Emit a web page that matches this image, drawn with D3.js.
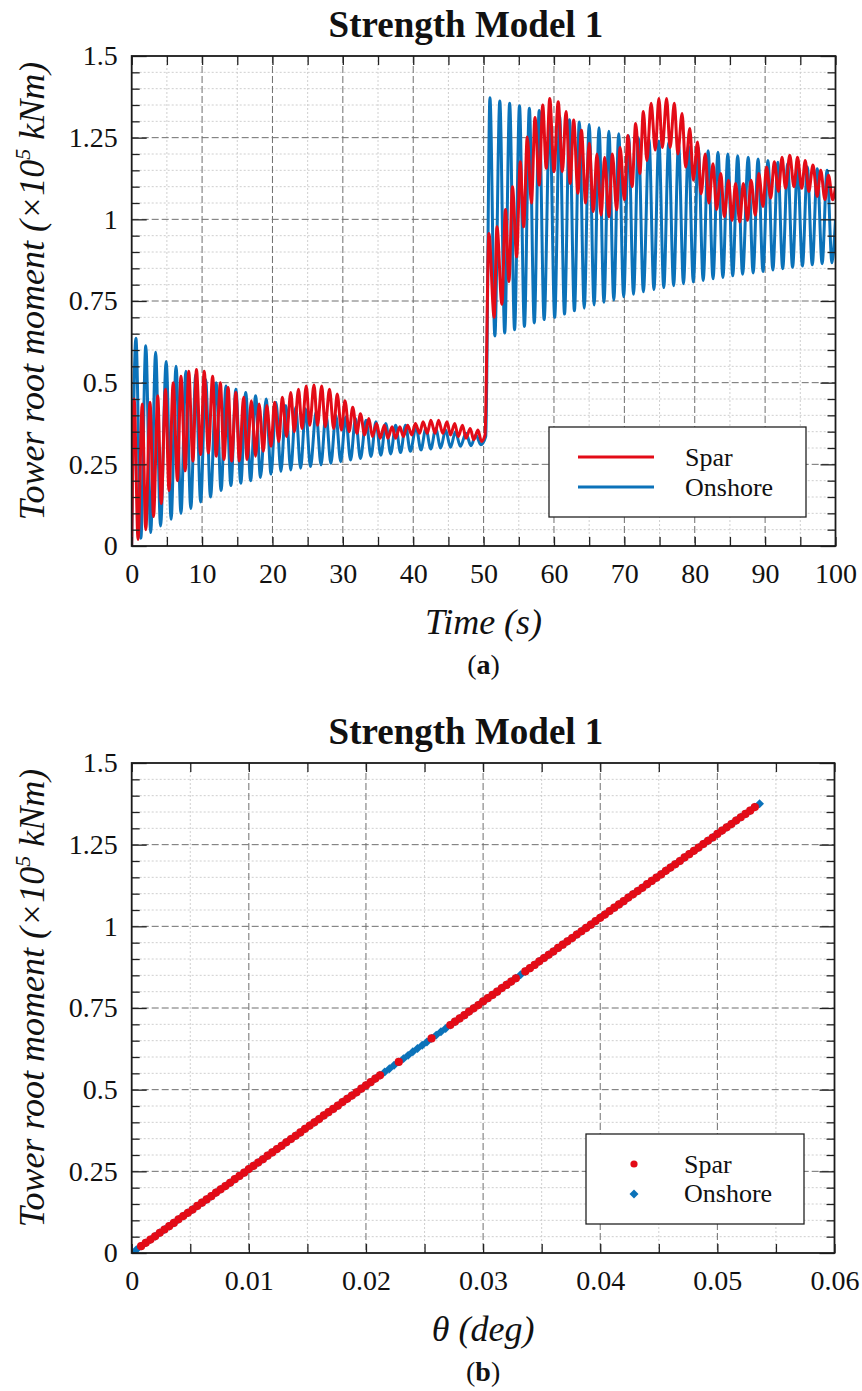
<!DOCTYPE html>
<html>
<head>
<meta charset="utf-8">
<script src="https://cdn.jsdelivr.net/npm/d3@7"></script>
<style>
  html, body { margin: 0; padding: 0; background: #fff; }
  svg { display: block; }
  text { font-family: "Liberation Serif", "Times New Roman", serif; fill: #111; }
</style>
</head>
<body>
<svg id="fig" width="862" height="1391"></svg>
<script>
// ---------------- data ----------------
// (a) tower root moment time histories, turning points of each oscillation
const sparTime = [
  0, 0.35, 0.9, 1.5, 2.0, 2.6, 3.1, 3.7, 4.2, 4.8, 5.3, 5.9, 6.5, 7.0, 7.6, 8.1, 8.7, 9.2, 9.8,
  10.3, 10.9, 11.5, 12.0, 12.6, 13.1, 13.7, 14.2, 14.8, 15.3, 15.9, 16.4, 17.0, 17.6, 18.1, 18.7,
  19.2, 19.8, 20.3, 20.9, 21.4, 22.0, 22.6, 23.1, 23.7, 24.2, 24.8, 25.3, 25.9, 26.4, 27.0, 27.5,
  28.1, 28.7, 29.2, 29.8, 30.3, 30.9, 31.4, 32.0, 32.5, 33.1, 33.7, 34.2, 34.8, 35.3, 35.9, 36.4,
  37.0, 37.5, 38.1, 38.6, 39.2, 39.8, 40.3, 40.9, 41.4, 42.0, 42.5, 43.1, 43.6, 44.2, 44.8, 45.3,
  45.9, 46.4, 47.0, 47.5, 48.1, 48.6, 49.2, 49.7, 50.2,
  50.75, 51.5, 51.9, 52.6, 53.1, 53.6, 54.1, 54.7, 55.2, 55.7, 56.2, 56.8, 57.3, 57.9, 58.4, 58.9,
  59.4, 60.0, 60.6, 61.2, 61.7, 62.3, 62.8, 63.4, 63.9, 64.5, 65.0, 65.6, 66.1, 66.7, 67.2, 67.8,
  68.3, 68.9, 69.4, 70.0, 70.5, 71.1, 71.6, 72.2, 72.7, 73.2, 73.8, 74.4, 74.9, 75.4, 76.0, 76.5,
  77.1, 77.6, 78.2, 78.7, 79.3, 79.8, 80.4, 80.9, 81.5, 82.0, 82.6, 83.1, 83.7, 84.2, 84.8, 85.3,
  85.8, 86.4, 86.9, 87.5, 88.0, 88.6, 89.1, 89.7, 90.2, 90.8, 91.3, 91.9, 92.4, 92.9, 93.5, 94.1,
  94.6, 95.2, 95.7, 96.2, 96.8, 97.4, 97.9, 98.5, 99.0, 99.6, 100
];
const sparMoment = [
  0, 0.45, 0.02, 0.435, 0.05, 0.44, 0.09, 0.46, 0.13, 0.48, 0.17, 0.50, 0.20, 0.52, 0.23, 0.535, 0.26, 0.54, 0.28,
  0.535, 0.285, 0.52, 0.275, 0.50, 0.265, 0.485, 0.26, 0.47, 0.26, 0.455, 0.265, 0.445, 0.275, 0.435, 0.29,
  0.43, 0.305, 0.44, 0.32, 0.455, 0.335, 0.47, 0.35, 0.48, 0.36, 0.49, 0.37, 0.493, 0.37, 0.49, 0.365,
  0.48, 0.36, 0.465, 0.355, 0.445, 0.35, 0.425, 0.345, 0.405, 0.34, 0.39, 0.335, 0.375, 0.33, 0.37, 0.33,
  0.365, 0.33, 0.365, 0.335, 0.37, 0.34, 0.375, 0.345, 0.38, 0.345, 0.385, 0.345, 0.385, 0.345, 0.38, 0.34,
  0.375, 0.335, 0.37, 0.33, 0.36, 0.325, 0.355, 0.32, 0.34,
  0.957, 0.70, 0.977, 0.74, 1.03, 0.81, 1.10, 0.885, 1.176, 0.977, 1.252, 1.05, 1.312, 1.105, 1.35, 1.156,
  1.37, 1.146, 1.36, 1.146, 1.33, 1.11, 1.304, 1.08, 1.273, 1.05, 1.233, 1.024, 1.20, 1.013, 1.19, 1.008,
  1.20, 1.029, 1.22, 1.06, 1.257, 1.10, 1.293, 1.14, 1.33, 1.18, 1.355, 1.212, 1.37, 1.22, 1.37, 1.22,
  1.355, 1.20, 1.324, 1.16, 1.278, 1.12, 1.237, 1.078, 1.20, 1.05, 1.17, 1.03, 1.14, 1.008, 1.12, 0.997,
  1.11, 0.992, 1.11, 0.997, 1.12, 1.013, 1.14, 1.039, 1.16, 1.065, 1.176, 1.085, 1.19, 1.095, 1.196, 1.10,
  1.19, 1.095, 1.18, 1.085, 1.166, 1.07, 1.15, 1.06, 1.135, 1.06, 1.10
];
const onshoreTime = [
  0, 0.6, 1.3, 2.0, 2.7, 3.4, 4.1, 4.9, 5.6, 6.3, 7.0, 7.7, 8.4, 9.1, 9.8, 10.5, 11.2, 12.0, 12.7,
  13.4, 14.1, 14.8, 15.5, 16.2, 16.9, 17.6, 18.3, 19.1, 19.8, 20.5, 21.2, 21.9, 22.6, 23.3, 24.0,
  24.7, 25.4, 26.2, 26.9, 27.6, 28.3, 29.0, 29.7, 30.4, 31.1, 31.8, 32.5, 33.3, 34.0, 34.7, 35.4,
  36.1, 36.8, 37.5, 38.2, 38.9, 39.6, 40.4, 41.1, 41.8, 42.5, 43.2, 43.9, 44.6, 45.3, 46.0, 46.7,
  47.5, 48.2, 48.9, 49.6, 50.3,
  50.9, 51.6, 52.3, 53.0, 53.7, 54.4, 55.1, 55.8, 56.5, 57.2, 57.9, 58.6, 59.4, 60.1, 60.8, 61.5,
  62.2, 62.9, 63.6, 64.3, 65.0, 65.7, 66.4, 67.1, 67.8, 68.5, 69.2, 69.9, 70.6, 71.3, 72.0, 72.7,
  73.5, 74.2, 74.9, 75.6, 76.3, 77.0, 77.7, 78.4, 79.1, 79.8, 80.5, 81.2, 81.9, 82.6, 83.3, 84.0,
  84.7, 85.4, 86.1, 86.8, 87.6, 88.3, 89.0, 89.7, 90.4, 91.1, 91.8, 92.5, 93.2, 93.9, 94.6, 95.3,
  96.0, 96.7, 97.4, 98.1, 98.8, 99.5, 100
];
const onshoreMoment = [
  0, 0.636, 0.024, 0.613, 0.041, 0.593, 0.061, 0.565, 0.082, 0.55, 0.10, 0.535, 0.115, 0.525, 0.135, 0.51, 0.15, 0.50, 0.17,
  0.49, 0.185, 0.48, 0.192, 0.47, 0.20, 0.46, 0.21, 0.45, 0.22, 0.44, 0.228, 0.43, 0.233, 0.425, 0.238,
  0.42, 0.243, 0.41, 0.248, 0.405, 0.253, 0.40, 0.258, 0.395, 0.263, 0.39, 0.268, 0.385, 0.274, 0.38, 0.278,
  0.375, 0.282, 0.37, 0.286, 0.37, 0.29, 0.365, 0.294, 0.36, 0.297, 0.36, 0.30, 0.355, 0.302, 0.35, 0.305,
  0.345, 0.307, 0.34, 0.31, 0.335,
  1.372, 0.643, 1.362, 0.652, 1.355, 0.662, 1.348, 0.672, 1.34, 0.683, 1.333, 0.693, 1.325, 0.70, 1.315, 0.71,
  1.305, 0.72, 1.298, 0.728, 1.29, 0.738, 1.28, 0.746, 1.27, 0.753, 1.262, 0.763, 1.256, 0.771, 1.25, 0.778,
  1.245, 0.785, 1.24, 0.791, 1.235, 0.797, 1.23, 0.803, 1.225, 0.808, 1.22, 0.813, 1.21, 0.818, 1.205, 0.822,
  1.20, 0.827, 1.195, 0.832, 1.19, 0.836, 1.185, 0.84, 1.18, 0.845, 1.175, 0.849, 1.17, 0.853, 1.165, 0.857,
  1.16, 0.861, 1.155, 0.864, 1.15, 0.867, 1.0
];

// (b) moment against tower rotation
const onshoreTheta = [
  0, 0.0004, 0.0008, 0.0012, 0.0016, 0.002, 0.0024, 0.0028, 0.0032, 0.0036,
  0.004, 0.0044, 0.0048, 0.0052, 0.0056, 0.006, 0.0064, 0.0068, 0.0072, 0.0076,
  0.008, 0.0084, 0.0088, 0.0092, 0.0096, 0.01, 0.0104, 0.0108, 0.0112, 0.0116,
  0.012, 0.0124, 0.0128, 0.0132, 0.0136, 0.014, 0.0144, 0.0148, 0.0152, 0.0156,
  0.016, 0.0164, 0.0168, 0.0172, 0.0176, 0.018, 0.0184, 0.0188, 0.0192, 0.0196,
  0.02, 0.0204, 0.0208, 0.0212, 0.0216, 0.022, 0.0224, 0.0228, 0.0232, 0.0236,
  0.024, 0.0244, 0.0248, 0.0252, 0.0256, 0.026, 0.0264, 0.0268, 0.0272, 0.0276,
  0.028, 0.0284, 0.0288, 0.0292, 0.0296, 0.03, 0.0304, 0.0308, 0.0312, 0.0316,
  0.032, 0.0324, 0.0328, 0.0332, 0.0336, 0.034, 0.0344, 0.0348, 0.0352, 0.0356,
  0.036, 0.0364, 0.0368, 0.0372, 0.0376, 0.038, 0.0384, 0.0388, 0.0392, 0.0396,
  0.04, 0.0404, 0.0408, 0.0412, 0.0416, 0.042, 0.0424, 0.0428, 0.0432, 0.0436,
  0.044, 0.0444, 0.0448, 0.0452, 0.0456, 0.046, 0.0464, 0.0468, 0.0472, 0.0476,
  0.048, 0.0484, 0.0488, 0.0492, 0.0496, 0.05, 0.0504, 0.0508, 0.0512, 0.0516,
  0.052, 0.0524, 0.0528, 0.0532, 0.0536
];
const onshoreRootMoment = [
  0, 0.010, 0.021, 0.031, 0.041, 0.051, 0.062, 0.072, 0.082, 0.092,
  0.103, 0.113, 0.123, 0.133, 0.144, 0.154, 0.164, 0.174, 0.185, 0.195,
  0.205, 0.215, 0.226, 0.236, 0.246, 0.257, 0.267, 0.277, 0.287, 0.298,
  0.308, 0.318, 0.328, 0.339, 0.349, 0.359, 0.369, 0.380, 0.390, 0.400,
  0.410, 0.421, 0.431, 0.441, 0.451, 0.462, 0.472, 0.482, 0.492, 0.503,
  0.513, 0.523, 0.534, 0.544, 0.554, 0.564, 0.575, 0.585, 0.595, 0.605,
  0.616, 0.626, 0.636, 0.646, 0.657, 0.667, 0.677, 0.687, 0.698, 0.708,
  0.718, 0.728, 0.739, 0.749, 0.759, 0.770, 0.780, 0.790, 0.800, 0.811,
  0.821, 0.831, 0.841, 0.852, 0.862, 0.872, 0.882, 0.893, 0.903, 0.913,
  0.923, 0.934, 0.944, 0.954, 0.964, 0.975, 0.985, 0.995, 1.005, 1.016,
  1.026, 1.036, 1.047, 1.057, 1.067, 1.077, 1.088, 1.098, 1.108, 1.118,
  1.129, 1.139, 1.149, 1.159, 1.170, 1.180, 1.190, 1.200, 1.211, 1.221,
  1.231, 1.241, 1.252, 1.262, 1.272, 1.283, 1.293, 1.303, 1.313, 1.324,
  1.334, 1.344, 1.354, 1.365, 1.375
];
const sparTheta = [
  0.0008, 0.0012, 0.0016, 0.002, 0.0024, 0.0028, 0.0032, 0.0036,
  0.004, 0.0044, 0.0048, 0.0052, 0.0056, 0.006, 0.0064, 0.0068, 0.0072, 0.0076,
  0.008, 0.0084, 0.0088, 0.0092, 0.0096, 0.01, 0.0104, 0.0108, 0.0112, 0.0116,
  0.012, 0.0124, 0.0128, 0.0132, 0.0136, 0.014, 0.0144, 0.0148, 0.0152, 0.0156,
  0.016, 0.0164, 0.0168, 0.0172, 0.0176, 0.018, 0.0184, 0.0188, 0.0192, 0.0196,
  0.02, 0.0204, 0.0208, 0.0212,
  0.0228, 0.0256,
  0.0272, 0.0276,
  0.028, 0.0284, 0.0288, 0.0292, 0.0296, 0.03, 0.0304, 0.0308, 0.0312, 0.0316,
  0.032, 0.0324, 0.0328, 0.0336, 0.034, 0.0344, 0.0348, 0.0352, 0.0356,
  0.036, 0.0364, 0.0368, 0.0372, 0.0376, 0.038, 0.0384, 0.0388, 0.0392, 0.0396,
  0.04, 0.0404, 0.0408, 0.0412, 0.0416, 0.042, 0.0424, 0.0428, 0.0432, 0.0436,
  0.044, 0.0444, 0.0448, 0.0452, 0.0456, 0.046, 0.0464, 0.0468, 0.0472, 0.0476,
  0.048, 0.0484, 0.0488, 0.0492, 0.0496, 0.05, 0.0504, 0.0508, 0.0512, 0.0516,
  0.052, 0.0524, 0.0528, 0.0532
];
const sparRootMoment = [
  0.021, 0.031, 0.041, 0.051, 0.062, 0.072, 0.082, 0.092,
  0.103, 0.113, 0.123, 0.133, 0.144, 0.154, 0.164, 0.174, 0.185, 0.195,
  0.205, 0.215, 0.226, 0.236, 0.246, 0.257, 0.267, 0.277, 0.287, 0.298,
  0.308, 0.318, 0.328, 0.339, 0.349, 0.359, 0.369, 0.380, 0.390, 0.400,
  0.410, 0.421, 0.431, 0.441, 0.451, 0.462, 0.472, 0.482, 0.492, 0.503,
  0.513, 0.523, 0.534, 0.544,
  0.585, 0.657,
  0.698, 0.708,
  0.718, 0.728, 0.739, 0.749, 0.759, 0.770, 0.780, 0.790, 0.800, 0.811,
  0.821, 0.831, 0.841, 0.862, 0.872, 0.882, 0.893, 0.903, 0.913,
  0.923, 0.934, 0.944, 0.954, 0.964, 0.975, 0.985, 0.995, 1.005, 1.016,
  1.026, 1.036, 1.047, 1.057, 1.067, 1.077, 1.088, 1.098, 1.108, 1.118,
  1.129, 1.139, 1.149, 1.159, 1.170, 1.180, 1.190, 1.200, 1.211, 1.221,
  1.231, 1.241, 1.252, 1.262, 1.272, 1.283, 1.293, 1.303, 1.313, 1.324,
  1.334, 1.344, 1.354, 1.365
];

// axis ticks
const timeMajor = [0, 10, 20, 30, 40, 50, 60, 70, 80, 90, 100];
const timeMinor = [5, 15, 25, 35, 45, 55, 65, 75, 85, 95];
const thetaMajor = [0, 0.01, 0.02, 0.03, 0.04, 0.05, 0.06];
const thetaMinor = [0.005, 0.015, 0.025, 0.035, 0.045, 0.055];
const momentMajor = [0, 0.25, 0.5, 0.75, 1, 1.25, 1.5];
const momentMinor = [0.05, 0.1, 0.15, 0.2, 0.3, 0.35, 0.4, 0.45, 0.55, 0.6, 0.65, 0.7,
                     0.8, 0.85, 0.9, 0.95, 1.05, 1.1, 1.15, 1.2, 1.3, 1.35, 1.4, 1.45];

const seriesNames = ["Spar", "Onshore"];
const SPAR_RED = "#e30b17";
const ONSHORE_BLUE = "#0b72b9";

// ---------------- drawing ----------------
const svg = d3.select("#fig");
const FONT = '"Liberation Serif", "Times New Roman", serif';

function drawFrame(box, xDom, xMajor, xMinor, titleText, xTitle, tag, clipId) {
  const x = d3.scaleLinear().domain(xDom).range([box.left, box.right]);
  const y = d3.scaleLinear().domain([0, 1.5]).range([box.bottom, box.top]);
  const g = svg.append("g");

  // minor dotted grid
  const grid = g.append("g");
  grid.selectAll("line.gx").data(xMinor).join("line")
    .attr("x1", d => x(d)).attr("x2", d => x(d)).attr("y1", box.top).attr("y2", box.bottom)
    .attr("stroke", "#c9c9c9").attr("stroke-width", 0.9).attr("stroke-dasharray", "2,2");
  grid.selectAll("line.gy").data(momentMinor).join("line")
    .attr("y1", d => y(d)).attr("y2", d => y(d)).attr("x1", box.left).attr("x2", box.right)
    .attr("stroke", "#c9c9c9").attr("stroke-width", 0.9).attr("stroke-dasharray", "2,2");
  // major dashed grid
  grid.selectAll("line.Gx").data(xMajor.slice(1, -1)).join("line")
    .attr("x1", d => x(d)).attr("x2", d => x(d)).attr("y1", box.top).attr("y2", box.bottom)
    .attr("stroke", "#6f6f6f").attr("stroke-width", 1).attr("stroke-dasharray", "7,3");
  grid.selectAll("line.Gy").data(momentMajor.slice(1, -1)).join("line")
    .attr("y1", d => y(d)).attr("y2", d => y(d)).attr("x1", box.left).attr("x2", box.right)
    .attr("stroke", "#6f6f6f").attr("stroke-width", 1).attr("stroke-dasharray", "7,3");

  // clip for the data
  svg.append("defs").append("clipPath").attr("id", clipId)
    .append("rect").attr("x", box.left).attr("y", box.top)
    .attr("width", box.right - box.left).attr("height", box.bottom - box.top);

  const dataLayer = svg.append("g").attr("clip-path", `url(#${clipId})`);
  const top = svg.append("g");

  // inward tick marks on all four sides
  const styleTicks = sel => {
    sel.select(".domain").remove();
    sel.selectAll(".tick line").attr("stroke", "#222").attr("stroke-width", 1.3);
  };
  const xTicks = xMajor.concat(xMinor);
  top.append("g").attr("transform", `translate(0,${box.bottom})`)
    .call(d3.axisBottom(x).tickValues(xTicks).tickSize(-9).tickFormat("")).call(styleTicks);
  top.append("g").attr("transform", `translate(0,${box.top})`)
    .call(d3.axisTop(x).tickValues(xTicks).tickSize(-9).tickFormat("")).call(styleTicks);
  top.append("g").attr("transform", `translate(${box.left},0)`)
    .call(d3.axisLeft(y).tickValues(momentMinor).tickSize(-8).tickFormat("")).call(styleTicks);
  top.append("g").attr("transform", `translate(${box.left},0)`)
    .call(d3.axisLeft(y).tickValues(momentMajor).tickSize(-15).tickFormat("")).call(styleTicks);
  top.append("g").attr("transform", `translate(${box.right},0)`)
    .call(d3.axisRight(y).tickValues(momentMinor).tickSize(-8).tickFormat("")).call(styleTicks);
  top.append("g").attr("transform", `translate(${box.right},0)`)
    .call(d3.axisRight(y).tickValues(momentMajor).tickSize(-15).tickFormat("")).call(styleTicks);

  // tick labels
  const styleLabels = sel => {
    sel.select(".domain").remove();
    sel.attr("font-family", FONT).attr("font-size", 28);
    sel.selectAll(".tick text").attr("fill", "#111");
  };
  top.append("g").attr("transform", `translate(0,${box.bottom})`)
    .call(d3.axisBottom(x).tickValues(xMajor).tickSize(0).tickPadding(17).tickFormat(String))
    .call(styleLabels);
  top.append("g").attr("transform", `translate(${box.left},0)`)
    .call(d3.axisLeft(y).tickValues(momentMajor).tickSize(0).tickPadding(14).tickFormat(String))
    .call(styleLabels);

  // frame
  top.append("rect").attr("x", box.left).attr("y", box.top)
    .attr("width", box.right - box.left).attr("height", box.bottom - box.top)
    .attr("fill", "none").attr("stroke", "#1a1a1a").attr("stroke-width", 1.8);

  // title
  top.append("text").attr("x", 466).attr("y", box.top - 19)
    .attr("text-anchor", "middle").attr("font-size", 37).attr("font-weight", "bold")
    .text(titleText);

  // y axis title
  const yt = top.append("text")
    .attr("transform", `translate(44,${(box.top + box.bottom) / 2 - 10}) rotate(-90)`)
    .attr("text-anchor", "middle").attr("font-size", 36).attr("font-style", "italic");
  yt.append("tspan").text("Tower root moment (\u00d710");
  yt.append("tspan").attr("font-size", 22).attr("dy", -14).text("5");
  yt.append("tspan").attr("dy", 14).text(" kNm)");

  // x axis title
  top.append("text").attr("x", (box.left + box.right) / 2).attr("y", box.bottom + 88)
    .attr("text-anchor", "middle").attr("font-size", 36).attr("font-style", "italic")
    .text(xTitle);

  // panel tag
  const tg = top.append("text").attr("x", (box.left + box.right) / 2).attr("y", box.bottom + 128)
    .attr("text-anchor", "middle").attr("font-size", 28);
  tg.append("tspan").text("(");
  tg.append("tspan").attr("font-weight", "bold").text(tag);
  tg.append("tspan").text(")");

  return { x, y, dataLayer, top };
}

// ----- panel (a): time histories -----
const boxA = { left: 131.7, right: 835.5, top: 56, bottom: 546 };
const A = drawFrame(boxA, [0, 100], timeMajor, timeMinor, "Strength Model 1", "Time (s)", "a", "clipA");

const lineA = d3.line()
  .x(d => A.x(d[0])).y(d => A.y(d[1]))
  .curve(d3.curveMonotoneX);

A.dataLayer.append("path")
  .attr("d", lineA(onshoreTime.map((t, i) => [t, onshoreMoment[i]])))
  .attr("fill", "none").attr("stroke", ONSHORE_BLUE).attr("stroke-width", 3)
  .attr("stroke-linejoin", "round");
A.dataLayer.append("path")
  .attr("d", lineA(sparTime.map((t, i) => [t, sparMoment[i]])))
  .attr("fill", "none").attr("stroke", SPAR_RED).attr("stroke-width", 3)
  .attr("stroke-linejoin", "round");

// legend (a)
const legA = A.top.append("g");
legA.append("rect").attr("x", 549).attr("y", 427).attr("width", 257).attr("height", 90)
  .attr("fill", "#fff").attr("stroke", "#222").attr("stroke-width", 1.3);
[SPAR_RED, ONSHORE_BLUE].forEach((c, i) => {
  legA.append("line").attr("x1", 578).attr("x2", 654).attr("y1", 457 + 30 * i).attr("y2", 457 + 30 * i)
    .attr("stroke", c).attr("stroke-width", 3);
  legA.append("text").attr("x", 685).attr("y", 466 + 30 * i).attr("font-size", 26).text(seriesNames[i]);
});

// ----- panel (b): moment vs rotation -----
const boxB = { left: 131.7, right: 834.5, top: 763, bottom: 1253 };
const B = drawFrame(boxB, [0, 0.06], thetaMajor, thetaMinor, "Strength Model 1", "\u03b8 (deg)", "b", "clipB");

const diamond = d3.symbol().type(d3.symbolSquare).size(40);
B.dataLayer.selectAll("path.on").data(onshoreTheta.map((t, i) => [t, onshoreRootMoment[i]])).join("path")
  .attr("d", diamond)
  .attr("transform", d => `translate(${B.x(d[0])},${B.y(d[1])}) rotate(45)`)
  .attr("fill", ONSHORE_BLUE);
B.dataLayer.selectAll("circle.sp").data(sparTheta.map((t, i) => [t, sparRootMoment[i]])).join("circle")
  .attr("cx", d => B.x(d[0])).attr("cy", d => B.y(d[1])).attr("r", 4.1)
  .attr("fill", SPAR_RED);

// legend (b)
const legB = B.top.append("g");
legB.append("rect").attr("x", 586).attr("y", 1134).attr("width", 218).attr("height", 90)
  .attr("fill", "#fff").attr("stroke", "#222").attr("stroke-width", 1.3);
legB.append("circle").attr("cx", 634).attr("cy", 1164).attr("r", 3.6).attr("fill", SPAR_RED);
legB.append("path").attr("d", diamond).attr("transform", "translate(634,1194) rotate(45)").attr("fill", ONSHORE_BLUE);
seriesNames.forEach((n, i) => {
  legB.append("text").attr("x", 684).attr("y", 1173 + 29 * i).attr("font-size", 26).text(n);
});
</script>
</body>
</html>
